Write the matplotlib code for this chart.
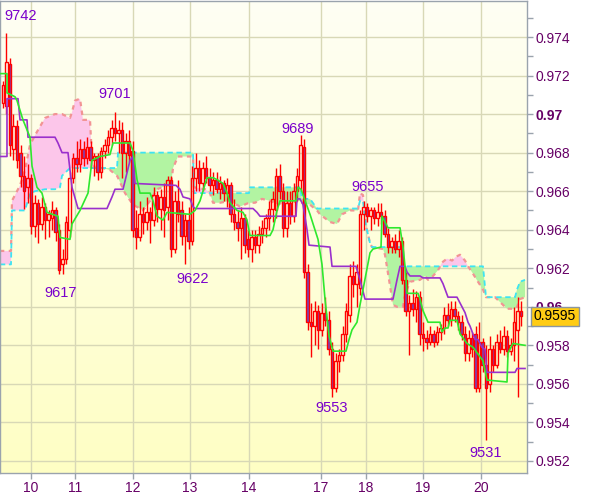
import numpy as np
import matplotlib
matplotlib.use("Agg")
import matplotlib.pyplot as plt
from matplotlib.patches import Rectangle
from matplotlib.collections import LineCollection
from matplotlib.colors import LinearSegmentedColormap
from matplotlib.ticker import MultipleLocator
import matplotlib.transforms as mtransforms

plt.rcParams['font.family'] = ['Liberation Sans', 'DejaVu Sans']

PIP = 1e-4  # prices below are in pips (0.9742 -> 9742)

# ---------------- candle data (hourly-ish bars) ----------------
opens = [9706, 9704, 9726, 9682, 9694, 9680, 9668, 9662, 9667, 9642,
         9654, 9643, 9652, 9645, 9646, 9650, 9640, 9622, 9625, 9640,
         9667, 9677, 9674, 9682, 9677, 9683, 9676, 9678, 9670, 9681,
         9684, 9688, 9693, 9690, 9692, 9680, 9686, 9681, 9641, 9636,
         9648, 9644, 9649, 9645, 9658, 9651, 9657, 9652, 9666, 9630,
         9655, 9650, 9637, 9645, 9634, 9667, 9672, 9664, 9672, 9667,
         9663, 9666, 9661, 9664, 9659, 9663, 9648, 9644, 9641, 9646,
         9635, 9630, 9636, 9632, 9638, 9641, 9646, 9651, 9650, 9668,
         9660, 9641, 9654, 9647, 9660, 9666, 9683, 9618, 9592, 9590,
         9598, 9588, 9597, 9593, 9578, 9558, 9572, 9575, 9586, 9596,
         9616, 9612, 9610, 9648, 9652, 9647, 9650, 9646, 9649, 9647,
         9638, 9631, 9634, 9630, 9634, 9614, 9598, 9602, 9599, 9605,
         9586, 9584, 9582, 9586, 9582, 9587, 9589, 9596, 9593, 9599,
         9595, 9592, 9586, 9576, 9584, 9586, 9558, 9582, 9570, 9560,
         9578, 9570, 9582, 9578, 9585, 9577, 9580, 9588, 9598]
highs = [9717, 9742, 9729, 9700, 9697, 9684, 9678, 9674, 9669, 9658,
         9656, 9657, 9654, 9650, 9655, 9652, 9643, 9630, 9647, 9670,
         9680, 9686, 9687, 9686, 9688, 9686, 9680, 9680, 9683, 9687,
         9692, 9697, 9701, 9697, 9696, 9690, 9692, 9686, 9650, 9655,
         9652, 9657, 9652, 9662, 9660, 9661, 9664, 9668, 9668, 9660,
         9666, 9655, 9648, 9652, 9673, 9680, 9676, 9675, 9678, 9672,
         9670, 9670, 9668, 9666, 9667, 9665, 9656, 9650, 9652, 9648,
         9640, 9640, 9640, 9642, 9645, 9648, 9655, 9660, 9672, 9674,
         9664, 9660, 9660, 9664, 9672, 9689, 9687, 9622, 9602, 9603,
         9601, 9602, 9605, 9598, 9582, 9576, 9578, 9590, 9602, 9622,
         9624, 9622, 9650, 9655, 9654, 9652, 9652, 9654, 9654, 9650,
         9641, 9636, 9638, 9640, 9636, 9618, 9606, 9609, 9608, 9608,
         9592, 9588, 9590, 9588, 9590, 9591, 9600, 9602, 9603, 9603,
         9598, 9596, 9590, 9588, 9587, 9590, 9592, 9584, 9580, 9585,
         9580, 9586, 9588, 9590, 9588, 9584, 9600, 9605, 9603]
lows = [9703, 9700, 9678, 9676, 9672, 9662, 9651, 9654, 9638, 9636,
        9633, 9640, 9635, 9636, 9640, 9634, 9617, 9617, 9622, 9636,
        9664, 9670, 9670, 9673, 9674, 9672, 9668, 9666, 9667, 9677,
        9680, 9684, 9686, 9680, 9667, 9670, 9675, 9636, 9630, 9634,
        9638, 9640, 9633, 9642, 9644, 9640, 9636, 9645, 9626, 9628,
        9644, 9632, 9622, 9630, 9632, 9660, 9660, 9660, 9664, 9660,
        9658, 9659, 9656, 9655, 9652, 9644, 9640, 9634, 9625, 9628,
        9626, 9623, 9628, 9628, 9633, 9636, 9640, 9644, 9646, 9656,
        9636, 9636, 9643, 9644, 9655, 9660, 9615, 9588, 9574, 9580,
        9578, 9585, 9590, 9575, 9553, 9556, 9566, 9572, 9582, 9592,
        9605, 9600, 9606, 9640, 9644, 9640, 9643, 9642, 9643, 9636,
        9628, 9628, 9628, 9626, 9612, 9595, 9575, 9595, 9592, 9580,
        9577, 9578, 9580, 9579, 9580, 9583, 9586, 9590, 9590, 9592,
        9588, 9583, 9572, 9572, 9574, 9556, 9556, 9566, 9531, 9556,
        9566, 9568, 9576, 9575, 9574, 9575, 9572, 9553, 9590]
closes = [9715, 9727, 9684, 9694, 9676, 9668, 9660, 9667, 9642, 9654,
          9643, 9652, 9645, 9648, 9650, 9639, 9619, 9625, 9644, 9667,
          9677, 9674, 9682, 9677, 9683, 9676, 9678, 9670, 9681, 9684,
          9688, 9693, 9690, 9692, 9680, 9686, 9679, 9640, 9636, 9648,
          9644, 9649, 9645, 9658, 9651, 9657, 9650, 9666, 9630, 9655,
          9648, 9637, 9645, 9634, 9667, 9672, 9664, 9672, 9667, 9663,
          9666, 9661, 9664, 9659, 9663, 9648, 9644, 9641, 9646, 9632,
          9630, 9636, 9632, 9638, 9641, 9646, 9651, 9656, 9668, 9660,
          9641, 9654, 9647, 9660, 9668, 9684, 9618, 9592, 9590, 9598,
          9588, 9597, 9593, 9578, 9558, 9572, 9575, 9586, 9598, 9616,
          9612, 9618, 9648, 9652, 9647, 9650, 9646, 9649, 9647, 9638,
          9631, 9634, 9630, 9634, 9614, 9598, 9602, 9599, 9605, 9586,
          9584, 9582, 9586, 9582, 9587, 9589, 9596, 9593, 9599, 9595,
          9592, 9586, 9576, 9584, 9578, 9558, 9582, 9570, 9558, 9578,
          9570, 9582, 9578, 9585, 9577, 9580, 9592, 9598, 9595]

# ---------------- x axis (day labels at bar index) ----------------
day_labels = ['10', '11', '12', '13', '14', '17', '18', '19', '20']
day_index = [8.0, 20.57, 37.14, 53.43, 70.29, 90.86, 103.71, 120.0, 136.57]

# ---------------- y axis ticks ----------------
price_ticks = [0.952, 0.954, 0.956, 0.958, 0.960, 0.962, 0.964, 0.966,
               0.968, 0.970, 0.972, 0.974]
bold_ticks = [0.960, 0.970]

# ---------------- Tenkan-sen (green) ----------------
tenkan_x = [-0.9, 1.14, 1.14, 3.43, 4.0, 5.71, 7.71, 8.29, 9.71, 11.14,
            12.57, 15.71, 16.29, 19.14, 19.71, 22.0, 24.29, 25.43, 27.71, 30.57,
            31.43, 36.29, 37.14, 38.29, 39.14, 42.0, 42.86, 44.0, 45.71, 46.86,
            53.43, 54.86, 56.29, 58.29, 60.0, 61.14, 62.86, 64.0, 64.86, 66.86,
            68.57, 69.71, 70.57, 76.29, 77.14, 78.29, 79.14, 83.71, 84.29, 85.14,
            87.71, 90.0, 91.14, 92.0, 93.14, 94.29, 98.0, 98.86, 99.71, 101.14,
            102.0, 102.86, 104.86, 105.71, 108.0, 108.29, 110.0, 113.43, 114.29, 114.86,
            115.43, 118.57, 119.14, 120.0, 121.43, 124.86, 125.43, 126.29, 127.14, 127.71,
            129.71, 130.57, 132.57, 134.29, 137.14, 138.29, 144.0, 144.29, 145.71, 149.14]
tenkan_v = [9721, 9721, 9711, 9709, 9707, 9697, 9688, 9673, 9662, 9659,
            9649, 9647, 9636, 9635, 9643, 9650, 9659, 9676, 9678, 9679,
            9685, 9685, 9681, 9666, 9659, 9659, 9655, 9647, 9645, 9649,
            9648, 9650, 9655, 9667, 9667, 9666, 9664, 9659, 9654, 9650,
            9649, 9645, 9637, 9637, 9640, 9650, 9655, 9655, 9662, 9661,
            9648, 9635, 9622, 9604, 9585, 9577, 9577, 9583, 9588, 9592,
            9601, 9609, 9628, 9630, 9631, 9647, 9641, 9641, 9631, 9621,
            9607, 9607, 9604, 9598, 9592, 9592, 9587, 9589, 9589, 9593,
            9593, 9586, 9581, 9579, 9572, 9562, 9561, 9576, 9581, 9580]

# ---------------- Kijun-sen (purple) ----------------
kijun_x = [-0.9, 1.14, 1.14, 4.29, 4.86, 6.86, 7.14, 14.86, 15.71, 16.86,
           18.57, 19.71, 21.43, 29.71, 31.14, 32.0, 34.29, 36.29, 37.14, 37.71,
           49.43, 50.57, 51.43, 53.43, 54.29, 54.86, 71.43, 72.57, 73.43, 83.71,
           84.0, 84.86, 85.71, 86.86, 87.43, 93.43, 94.0, 100.86, 102.0, 103.43,
           111.43, 112.0, 112.57, 113.43, 114.86, 115.43, 116.29, 119.14, 120.0, 124.86,
           125.71, 127.14, 129.71, 130.57, 132.0, 132.86, 133.43, 134.86, 135.71, 136.86,
           137.71, 138.29, 146.29, 146.86, 149.14]
kijun_v = [9678, 9678, 9708, 9708, 9697, 9697, 9688, 9688, 9685, 9680,
           9680, 9662, 9651, 9651, 9657, 9661, 9661, 9676, 9678, 9664,
           9663, 9661, 9657, 9656, 9652, 9651, 9651, 9649, 9647, 9647,
           9656, 9656, 9653, 9640, 9632, 9631, 9621, 9621, 9614, 9604,
           9604, 9609, 9614, 9621, 9621, 9618, 9616, 9616, 9615, 9615,
           9612, 9605, 9605, 9602, 9597, 9592, 9590, 9583, 9583, 9579,
           9578, 9566, 9566, 9568, 9568]

# ---------------- Cloud: Senkou span A (cyan) / span B (salmon) ----------------
cloud_x = [-0.9, 2.29, 2.57, 4.86, 6.29, 7.71, 9.14, 12.0, 14.86, 16.29,
           16.86, 19.14, 19.71, 20.57, 22.0, 22.86, 24.86, 25.43, 26.29, 28.57,
           30.57, 32.57, 32.86, 34.86, 37.14, 39.14, 40.0, 42.0, 44.0, 46.86,
           48.0, 48.57, 50.0, 54.29, 54.57, 57.71, 59.14, 60.0, 62.0, 64.86,
           67.71, 70.29, 70.57, 72.0, 74.0, 76.29, 78.57, 80.57, 82.0, 84.86,
           85.43, 87.71, 89.71, 90.57, 92.0, 93.43, 95.43, 96.86, 99.14, 101.43,
           102.0, 102.86, 103.71, 104.86, 105.43, 108.57, 109.14, 110.57, 111.43, 112.57,
           114.29, 114.57, 115.43, 116.29, 119.14, 120.57, 121.43, 122.86, 124.29, 125.43,
           126.86, 128.29, 129.43, 130.57, 132.0, 132.86, 134.0, 135.71, 137.14, 138.0,
           140.57, 142.86, 144.0, 146.29, 146.86, 147.71, 149.14]
span_a = [9622, 9622, 9650, 9650, 9650, 9659, 9660, 9661, 9661, 9662,
          9668, 9672, 9672, 9672, 9672, 9672, 9672, 9672, 9672, 9672,
          9672, 9672, 9680, 9680, 9680, 9680, 9680, 9680, 9680, 9680,
          9680, 9680, 9680, 9680, 9659, 9659, 9659, 9659, 9659, 9659,
          9659, 9659, 9662, 9662, 9662, 9662, 9662, 9662, 9662, 9662,
          9656, 9656, 9651, 9651, 9651, 9651, 9651, 9651, 9651, 9651,
          9655, 9655, 9642, 9633, 9631, 9631, 9631, 9631, 9631, 9631,
          9631, 9621, 9621, 9621, 9621, 9621, 9621, 9621, 9621, 9621,
          9621, 9621, 9621, 9621, 9621, 9621, 9621, 9621, 9621, 9605,
          9605, 9605, 9605, 9605, 9609, 9613, 9614]
span_b = [9629, 9629, 9655, 9663, 9671, 9684, 9689, 9698, 9700, 9700,
          9700, 9698, 9701, 9707, 9708, 9697, 9697, 9676, 9672, 9672,
          9671, 9668, 9667, 9659, 9653, 9651, 9650, 9655, 9661, 9663,
          9663, 9672, 9678, 9678, 9662, 9661, 9659, 9654, 9654, 9655,
          9652, 9654, 9654, 9654, 9656, 9655, 9653, 9655, 9654, 9655,
          9654, 9653, 9650, 9648, 9646, 9644, 9643, 9648, 9650, 9650,
          9659, 9658, 9642, 9633, 9631, 9630, 9627, 9611, 9601, 9600,
          9600, 9604, 9609, 9613, 9614, 9616, 9614, 9616, 9619, 9623,
          9625, 9624, 9626, 9627, 9624, 9621, 9618, 9613, 9609, 9605,
          9605, 9601, 9599, 9599, 9600, 9604, 9605]

# ---------------- swing labels (bar index of extreme, high/low) ----------------
swing_index = [1, 32, 16, 52, 85, 103, 94, 138]
swing_kind = ['H', 'H', 'L', 'L', 'H', 'H', 'L', 'L']
swing_offset_px = [(14.5, -17), (0, -18), (2, 19), (8, 15), (-2.5, -6),
                   (4.5, -14), (0, 11), (0, 13)]

# ================= drawing =================
o = np.array(opens) * PIP
h = np.array(highs) * PIP
l = np.array(lows) * PIP
c = np.array(closes) * PIP
n = len(o)
idx = np.arange(n)

fig = plt.figure(figsize=(6.0, 4.97), dpi=100, facecolor='white')
ax = fig.add_axes([0, 24 / 497, 527 / 600, 472 / 497])
x0, x1 = -0.857, 149.71
y0, y1 = 0.951377, 0.975868

# background gradient
cmap = LinearSegmentedColormap.from_list('bg', ['#fefef4', '#ffffc4'])
grad = np.linspace(0, 1, 256).reshape(-1, 1)
ax.imshow(grad, extent=[x0, x1, y0, y1], origin='upper', aspect='auto',
          cmap=cmap, zorder=0, interpolation='bilinear')

# cloud
cx = np.array(cloud_x)
A = np.array(span_a) * PIP
B = np.array(span_b) * PIP
ax.fill_between(cx, A, B, where=A >= B, interpolate=True, color='#b2f4a2',
                lw=0, zorder=1)
ax.fill_between(cx, A, B, where=A < B, interpolate=True, color='#fcc6ea',
                lw=0, zorder=1)
ax.plot(cx, B, color='#f29494', lw=1.6, ls=(0, (2, 2)), zorder=2)
ax.plot(cx, A, color='#3ee4f2', lw=1.3, ls=(0, (3, 2)), zorder=2)

# candles
body_lo = np.minimum(o, c)
body_hi = np.maximum(o, c)
segs = []
for i in idx:
    segs.append([(i, l[i]), (i, body_lo[i])])
    segs.append([(i, body_hi[i]), (i, h[i])])
ax.add_collection(LineCollection(segs, colors='#ff0000', linewidths=1.0, zorder=3))
for i in idx:
    bear = c[i] < o[i]
    ax.add_patch(Rectangle((i - 0.42, body_lo[i]), 0.84, body_hi[i] - body_lo[i],
                           facecolor='#7b42b8' if bear else 'none',
                           edgecolor='#ff0000', lw=1.0, zorder=3))

# Ichimoku lines
ax.plot(kijun_x, np.array(kijun_v) * PIP, color='#9a30cc', lw=1.2, zorder=4)
ax.plot(tenkan_x, np.array(tenkan_v) * PIP, color='#2ee82e', lw=1.2, zorder=4)

# swing labels
for si, kind, (dx, dy) in zip(swing_index, swing_kind, swing_offset_px):
    val = highs[si] if kind == 'H' else lows[si]
    ax.annotate(str(val), xy=(si, val * PIP), xytext=(dx * 0.72, -dy * 0.72),
                textcoords='offset points', ha='center', va='center',
                color='#7a00cc', fontsize=10.5, zorder=6)

ax.set_xlim(x0, x1)
ax.set_ylim(y0, y1)

# axes styling
ax.set_axisbelow(True)
ax.grid(True, which='major', color='#d8d8b6', lw=1.0)
for sp in ax.spines.values():
    sp.set_color('#9aa3ad')
    sp.set_linewidth(1.0)

ax.yaxis.tick_right()
ax.set_yticks(price_ticks)
ylabels = []
for t in price_ticks:
    is_bold = any(abs(t - b) < 1e-9 for b in bold_ticks)
    ylabels.append(f"{t:.2f}" if is_bold else f"{t:.3f}")
ax.set_yticklabels(ylabels)
for lab, t in zip(ax.get_yticklabels(), price_ticks):
    if any(abs(t - b) < 1e-9 for b in bold_ticks):
        lab.set_fontweight('bold')
ax.yaxis.set_minor_locator(MultipleLocator(0.001))
ax.tick_params(axis='y', which='both', direction='out', length=4, width=1,
               color='#9aa3ad', labelcolor='#660066', labelsize=10, pad=2)

ax.set_xticks(day_index)
ax.set_xticklabels(day_labels)
ax.tick_params(axis='x', which='both', direction='out', length=4, width=1,
               color='#9aa3ad', labelcolor='#660066', labelsize=10, pad=2)

# current price tag
trans = mtransforms.blended_transform_factory(ax.transAxes, ax.transData)
ax.text(1.0 + 7 / 527, c[-1], f"{c[-1]:.4f}", transform=trans, ha='left',
        va='center', fontsize=10, color='black', clip_on=False, zorder=10,
        bbox=dict(boxstyle='square,pad=0.2', fc='#ffcc14', ec='#8a96a0', lw=1))

fig.savefig('out.png', dpi=100, facecolor='white')
